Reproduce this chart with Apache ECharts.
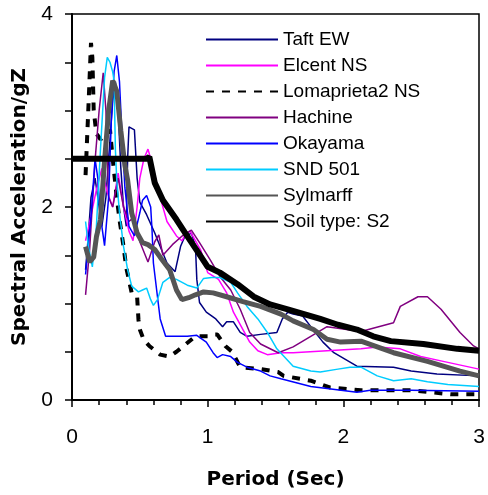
<!DOCTYPE html>
<html><head><meta charset="utf-8">
<script src="https://cdn.jsdelivr.net/npm/echarts@6/dist/echarts.min.js"></script>
<style>html,body{margin:0;padding:0;background:#fff}#c{width:488px;height:495px}</style>
</head><body><div id="c"></div>
<script>
// ---- data ----
const seriesNames = ['Taft EW','Elcent NS','Lomaprieta2 NS','Hachine','Okayama','SND 501','Sylmarff','Soil type: S2'];
const xTickLabels = ['0','1','2','3'];
const yTickLabels = ['0','2','4'];

const taftT  = [0.1,0.12,0.14,0.17,0.2,0.22,0.25,0.28,0.3,0.32,0.34,0.36,0.38,0.4,0.41,0.42,0.46,0.48,0.5,0.55,0.61,0.65,0.7,0.76,0.8,0.83,0.88,0.91,0.92,0.94,0.99,1.06,1.11,1.14,1.19,1.24,1.29,1.39,1.51,1.55,1.59,1.63,1.7,1.76,1.85,1.93,2.1,2.37,2.5,2.69,3.0];
const taftSA = [1.35,1.7,2.1,2.3,2.0,1.8,2.1,2.7,3.1,3.3,3.0,2.4,2.0,1.8,2.5,2.83,2.8,2.3,2.05,1.92,1.73,1.59,1.42,1.33,1.59,1.69,1.73,1.59,1.25,1.01,0.91,0.84,0.76,0.81,0.81,0.7,0.66,0.68,0.7,0.84,0.91,0.89,0.87,0.76,0.6,0.49,0.35,0.34,0.3,0.27,0.25];

const elcentT  = [0.1,0.13,0.18,0.22,0.26,0.3,0.34,0.38,0.42,0.45,0.48,0.5,0.53,0.56,0.59,0.65,0.7,0.77,0.81,0.83,0.87,0.95,1.0,1.08,1.14,1.19,1.26,1.31,1.37,1.44,1.54,1.63,1.88,2.13,2.25,2.42,2.57,2.77,3.0];
const elcentSA = [1.65,1.84,2.18,2.4,2.15,2.0,2.35,2.0,1.75,1.65,2.0,2.3,2.5,2.6,2.45,2.1,1.85,1.7,1.65,1.7,1.75,1.55,1.32,1.25,1.11,0.91,0.73,0.6,0.51,0.47,0.49,0.49,0.51,0.53,0.55,0.53,0.45,0.39,0.32];

const lomaT  = [0.1,0.12,0.14,0.15,0.16,0.18,0.21,0.25,0.28,0.3,0.33,0.35,0.38,0.4,0.44,0.48,0.49,0.5,0.53,0.57,0.65,0.72,0.77,0.84,0.91,1.0,1.04,1.07,1.13,1.18,1.24,1.39,1.52,1.56,1.76,1.9,2.13,2.5,2.79,3.0];
const lomaSA = [2.33,3.0,3.7,3.55,3.0,2.76,2.7,2.75,2.8,2.5,2.1,1.87,1.59,1.37,1.11,1.07,0.83,0.73,0.62,0.56,0.47,0.45,0.5,0.58,0.66,0.66,0.68,0.68,0.56,0.5,0.34,0.32,0.29,0.25,0.2,0.13,0.1,0.1,0.06,0.06];

const hachT  = [0.1,0.13,0.17,0.2,0.23,0.25,0.27,0.3,0.34,0.38,0.42,0.46,0.5,0.56,0.61,0.64,0.67,0.74,0.82,0.88,0.94,1.02,1.09,1.17,1.24,1.31,1.39,1.52,1.63,1.76,1.88,2.13,2.37,2.42,2.55,2.62,2.72,2.86,2.96,3.0];
const hachSA = [1.09,1.56,2.48,3.0,3.39,3.0,2.1,2.0,2.3,2.0,1.85,1.9,1.64,1.43,1.64,1.71,1.5,1.61,1.71,1.76,1.63,1.45,1.28,1.14,0.94,0.7,0.58,0.49,0.55,0.66,0.76,0.71,0.8,0.97,1.07,1.07,0.94,0.7,0.56,0.53];

const okaT  = [0.1,0.12,0.14,0.17,0.19,0.21,0.24,0.27,0.29,0.31,0.33,0.35,0.37,0.39,0.42,0.46,0.5,0.52,0.55,0.58,0.59,0.6,0.63,0.65,0.69,0.75,0.85,0.92,0.94,0.99,1.04,1.07,1.11,1.17,1.22,1.29,1.39,1.46,1.54,1.76,1.88,2.1,2.2,2.5,3.0];
const okaSA = [1.3,1.6,1.9,2.5,2.3,1.9,1.6,2.1,2.9,3.4,3.57,3.3,2.7,2.2,1.8,1.7,1.94,2.07,2.12,2.0,1.76,1.42,1.07,0.84,0.66,0.66,0.66,0.67,0.65,0.6,0.49,0.44,0.47,0.45,0.39,0.34,0.3,0.25,0.22,0.14,0.12,0.08,0.1,0.1,0.09];

const sndT  = [0.1,0.12,0.15,0.18,0.21,0.24,0.26,0.28,0.3,0.31,0.32,0.33,0.35,0.38,0.41,0.44,0.49,0.52,0.55,0.58,0.6,0.63,0.67,0.72,0.77,0.85,0.92,0.97,1.03,1.09,1.17,1.22,1.29,1.37,1.44,1.51,1.63,1.76,1.83,1.96,2.05,2.13,2.25,2.37,2.5,2.62,2.77,3.0];
const sndSA = [1.85,1.6,1.38,1.8,2.6,3.34,3.55,3.5,3.4,3.31,2.59,2.28,1.94,1.59,1.35,1.18,1.12,1.14,1.16,1.04,0.98,1.04,1.22,1.27,1.25,1.19,1.16,1.26,1.27,1.27,1.22,1.11,0.97,0.84,0.7,0.53,0.35,0.3,0.29,0.32,0.34,0.34,0.25,0.2,0.22,0.19,0.16,0.14];

const sylT  = [0.1,0.13,0.16,0.18,0.21,0.24,0.27,0.3,0.33,0.36,0.39,0.41,0.44,0.48,0.52,0.56,0.61,0.65,0.72,0.77,0.81,0.86,0.91,0.97,1.04,1.14,1.26,1.39,1.54,1.63,1.78,1.88,1.98,2.13,2.37,2.62,2.86,3.0];
const sylSA = [1.59,1.43,1.48,1.69,1.87,2.48,3.0,3.31,3.2,2.79,2.43,2.28,1.94,1.73,1.63,1.61,1.56,1.48,1.35,1.14,1.04,1.06,1.09,1.12,1.11,1.07,1.02,0.97,0.89,0.82,0.73,0.63,0.6,0.61,0.49,0.4,0.3,0.25];

const s2T  = [0,0.55,0.57,0.61,0.67,0.77,0.83,0.92,1.0,1.09,1.22,1.34,1.46,1.59,1.71,1.83,1.96,2.1,2.22,2.35,2.59,2.84,3.0];
const s2SA = [2.5,2.5,2.52,2.25,2.07,1.87,1.74,1.55,1.38,1.32,1.2,1.07,0.99,0.94,0.89,0.84,0.78,0.73,0.66,0.61,0.58,0.53,0.51];

// ---- build ----
const zip = (a, b) => a.map((t, i) => [t, b[i]]);
const dataSets = [zip(taftT,taftSA), zip(elcentT,elcentSA), zip(lomaT,lomaSA), zip(hachT,hachSA),
                  zip(okaT,okaSA), zip(sndT,sndSA), zip(sylT,sylSA), zip(s2T,s2SA)];
const styles = [
  {color:'#000080', width:1.5, type:'solid'},
  {color:'#FF00FF', width:1.5, type:'solid'},
  {color:'#000000', width:4, type:[8,8]},
  {color:'#800080', width:1.5, type:'solid'},
  {color:'#0000FF', width:1.5, type:'solid'},
  {color:'#00CCFF', width:1.5, type:'solid'},
  {color:'#555555', width:5, type:'solid'},
  {color:'#000000', width:6, type:'solid'}
];
const FONT = 'Liberation Sans, Arial, sans-serif';
const BOLDFONT = 'DejaVu Sans, Liberation Sans, sans-serif';

const chart = echarts.init(document.getElementById('c'), null, {renderer:'canvas'});
chart.setOption({
  animation: false,
  backgroundColor: '#fff',
  grid: {left:72, right:9, top:14, bottom:94, show:true, borderColor:'#000', borderWidth:1.5},
  legend: {
    orient:'vertical', left:200, top:25, itemWidth:72, itemHeight:14, itemGap:7,
    data: seriesNames,
    textStyle:{fontFamily:FONT, fontSize:19, color:'#000', lineHeight:18, padding:[0,0,0,0]},
    itemStyle:{opacity:0}
  },
  xAxis: {
    type:'value', min:0, max:3, interval:1,
    name:'Period (Sec)', nameLocation:'middle', nameGap:70,
    nameTextStyle:{fontFamily:BOLDFONT, fontSize:20, fontWeight:'bold', color:'#000'},
    axisLine:{show:true, onZero:false, lineStyle:{color:'#000', width:2}},
    axisTick:{show:true, length:7, lineStyle:{color:'#000', width:1.5}},
    minorTick:{show:true, splitNumber:5, length:5, lineStyle:{color:'#000', width:1.5}},
    splitLine:{show:false},
    axisLabel:{fontFamily:FONT, fontSize:21, color:'#000', margin:27,
      formatter: v => xTickLabels[Math.round(v)] }
  },
  yAxis: {
    type:'value', min:0, max:4, interval:0.5,
    name:'Spectral Acceleration/gZ', nameLocation:'middle', nameGap:42, nameRotate:90,
    nameTextStyle:{fontFamily:BOLDFONT, fontSize:20, fontWeight:'bold', color:'#000'},
    axisLine:{show:true, onZero:false, lineStyle:{color:'#000', width:2}},
    axisTick:{show:true, length:7, lineStyle:{color:'#000', width:1.5}},
    splitLine:{show:false},
    axisLabel:{fontFamily:FONT, fontSize:21, color:'#000', margin:19,
      formatter: v => (Math.abs(v/2 - Math.round(v/2)) < 1e-6) ? yTickLabels[Math.round(v/2)] : '' }
  },
  series: seriesNames.map((n, i) => ({
    name:n, type:'line', data:dataSets[i], symbol:'none', showSymbol:false, smooth:false,
    lineStyle:{color:styles[i].color, width:styles[i].width, type:styles[i].type},
    itemStyle:{color:styles[i].color},
    z: 2 + i
  }))
});
</script></body></html>
